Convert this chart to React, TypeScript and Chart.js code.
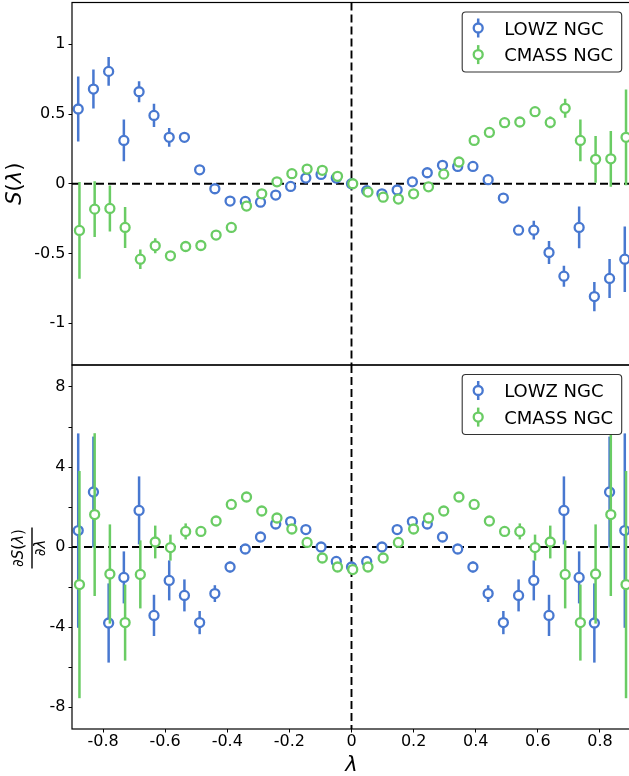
import React, { useEffect, useRef } from 'react';
import { Chart, registerables } from 'chart.js';

Chart.register(...registerables);
Chart.defaults.font.family = '"DejaVu Sans", sans-serif';

// ---------------- data ----------------
const LAMBDA = [-0.88, -0.831, -0.782, -0.733, -0.684, -0.636, -0.587, -0.538, -0.489, -0.44, -0.391, -0.342, -0.293, -0.244, -0.196, -0.147, -0.098, -0.049, 0,
  0.049, 0.098, 0.147, 0.196, 0.244, 0.293, 0.342, 0.391, 0.44, 0.489, 0.538, 0.587, 0.636, 0.684, 0.733, 0.782, 0.831, 0.88];
const CMASS_SHIFT = 0.004;

const LOWZ_S = [0.536, 0.679, 0.806, 0.311, 0.66, 0.49, 0.333, 0.333, 0.10, -0.036, -0.124, -0.127, -0.132, -0.081, -0.019, 0.041, 0.067, 0.041, 0,
  -0.05, -0.072, -0.045, 0.014, 0.079, 0.132, 0.124, 0.124, 0.029, -0.103, -0.333, -0.333, -0.493, -0.663, -0.313, -0.809, -0.679, -0.541];
const LOWZ_S_ERR = [0.233, 0.14, 0.103, 0.15, 0.075, 0.083, 0.067, 0.02, 0.015, 0.012, 0.012, 0.015, 0.01, 0.01, 0.01, 0.01, 0.008, 0.006, 0,
  0.006, 0.008, 0.01, 0.01, 0.01, 0.01, 0.015, 0.012, 0.012, 0.015, 0.02, 0.067, 0.083, 0.075, 0.15, 0.105, 0.14, 0.235];

const CMASS_S = [-0.335, -0.182, -0.177, -0.313, -0.541, -0.445, -0.517, -0.45, -0.443, -0.368, -0.313, -0.160, -0.072, 0.014, 0.072, 0.105, 0.096, 0.053, 0,
  -0.06, -0.096, -0.11, -0.072, -0.022, 0.069, 0.156, 0.311, 0.368, 0.438, 0.443, 0.517, 0.44, 0.541, 0.311, 0.175, 0.179, 0.333];
const CMASS_S_ERR = [0.347, 0.2, 0.165, 0.147, 0.07, 0.054, 0.02, 0.015, 0.015, 0.012, 0.012, 0.01, 0.01, 0.01, 0.01, 0.01, 0.008, 0.006, 0,
  0.006, 0.008, 0.01, 0.01, 0.01, 0.01, 0.01, 0.012, 0.012, 0.015, 0.015, 0.02, 0.042, 0.068, 0.15, 0.167, 0.2, 0.343];

const LOWZ_D = [0.82, 2.75, -3.8, -1.52, 1.83, -3.42, -1.67, -2.42, -3.78, -2.33, -1.0, -0.1, 0.5, 1.15, 1.27, 0.87, 0, -0.72, -1.0,
  -0.72, 0, 0.87, 1.27, 1.15, 0.5, -0.1, -1.0, -2.33, -3.78, -2.42, -1.67, -3.42, 1.83, -1.52, -3.8, 2.75, 0.82];
const LOWZ_D_ERR = [4.86, 2.77, 1.98, 1.3, 1.7, 1.03, 1.0, 0.8, 0.58, 0.42, 0.27, 0.2, 0.15, 0.12, 0.1, 0.1, 0.1, 0.1, 0.1,
  0.1, 0.1, 0.1, 0.1, 0.12, 0.15, 0.2, 0.27, 0.42, 0.58, 0.8, 1.0, 1.03, 1.7, 1.3, 1.98, 2.77, 4.86];

const CMASS_D = [-1.88, 1.62, -1.35, -3.78, -1.37, 0.25, -0.03, 0.78, 0.78, 1.3, 2.13, 2.5, 1.8, 1.45, 0.9, 0.23, -0.55, -1.0, -1.13,
  -1.0, -0.55, 0.23, 0.9, 1.45, 1.8, 2.5, 2.13, 1.3, 0.78, 0.78, -0.03, 0.25, -1.37, -3.78, -1.35, 1.62, -1.88];
const CMASS_D_ERR = [5.68, 4.07, 2.48, 1.9, 1.7, 0.82, 0.65, 0.4, 0.2, 0.15, 0.12, 0.1, 0.1, 0.1, 0.1, 0.1, 0.1, 0.1, 0.1,
  0.1, 0.1, 0.1, 0.1, 0.1, 0.1, 0.1, 0.12, 0.15, 0.2, 0.4, 0.65, 0.82, 1.7, 1.9, 2.48, 4.07, 5.68];

const SERIES_LABELS = ['LOWZ NGC', 'CMASS NGC'];
const X_TICKS = [-0.8, -0.6, -0.4, -0.2, 0, 0.2, 0.4, 0.6, 0.8];
const S_TICKS = [-1, -0.5, 0, 0.5, 1];
const D_TICKS = [-8, -6, -4, -2, 0, 2, 4, 6, 8];
const D_LABELED = [-8, -4, 0, 4, 8];

// ---------------- style ----------------
const BLUE = '#4878D0';
const GREEN = '#6ACC64';
const W = 631;
const H = 776;
const AXIS_W = 72;
const TOP_PANEL = { top: 2.5, bottom: 365 };
const BOT_PANEL = { top: 365, bottom: 729 };
const FONT = '"DejaVu Sans", sans-serif';

type Part = [string, boolean];

function drawParts(ctx: CanvasRenderingContext2D, parts: Part[], size: number, x: number, y: number) {
  const fonts = parts.map(([, it]) => `${it ? 'italic ' : ''}${size}px ${FONT}`);
  let total = 0;
  const ws = parts.map(([t], i) => {
    ctx.font = fonts[i];
    const w = ctx.measureText(t).width;
    total += w;
    return w;
  });
  let cx = x - total / 2;
  ctx.textAlign = 'left';
  ctx.textBaseline = 'alphabetic';
  parts.forEach(([t], i) => {
    ctx.font = fonts[i];
    ctx.fillText(t, cx, y);
    cx += ws[i];
  });
}

const errorBarPlugin = {
  id: 'errbars',
  beforeDatasetDraw(chart: any, args: any) {
    const ds = chart.data.datasets[args.index];
    const errs: number[] | undefined = ds.errors;
    if (!errs) return;
    const { ctx, chartArea: a } = chart;
    const xs = chart.scales.x;
    const ys = chart.scales.y;
    ctx.save();
    ctx.beginPath();
    ctx.rect(a.left, a.top, a.right - a.left, a.bottom - a.top);
    ctx.clip();
    ctx.strokeStyle = ds.borderColor;
    ctx.lineWidth = 2.5;
    ctx.lineCap = 'butt';
    ds.data.forEach((p: { x: number; y: number }, i: number) => {
      const e = errs[i];
      if (!e) return;
      const x = xs.getPixelForValue(p.x);
      const y1 = ys.getPixelForValue(p.y - e);
      const y2 = ys.getPixelForValue(p.y + e);
      ctx.beginPath();
      ctx.moveTo(x, y1);
      ctx.lineTo(x, y2);
      ctx.stroke();
    });
    ctx.restore();
  },
};

function makeDecor(kind: 'S' | 'D') {
  return {
    id: 'decor',
    beforeDatasetsDraw(chart: any) {
      const { ctx, chartArea: a } = chart;
      const xs = chart.scales.x;
      const ys = chart.scales.y;
      ctx.save();
      ctx.setLineDash([8, 4]);
      ctx.lineWidth = 1.9;
      ctx.strokeStyle = '#000';
      const y0 = ys.getPixelForValue(0);
      ctx.beginPath();
      ctx.moveTo(a.left, y0);
      ctx.lineTo(a.right, y0);
      ctx.stroke();
      const x0 = xs.getPixelForValue(0);
      ctx.beginPath();
      ctx.moveTo(x0, a.top);
      ctx.lineTo(x0, a.bottom);
      ctx.stroke();
      ctx.restore();
    },
    afterDraw(chart: any) {
      const { ctx, chartArea: a } = chart;
      ctx.save();
      // frame
      ctx.strokeStyle = '#000';
      ctx.lineWidth = 1.2;
      ctx.strokeRect(a.left, a.top, a.right - a.left, a.bottom - a.top);

      // legend
      const bw = 159.5;
      const bh = 60;
      const bx = a.right - 9.3 - bw;
      const by = a.top + 9.5;
      ctx.beginPath();
      (ctx as any).roundRect(bx, by, bw, bh, 3.5);
      ctx.fillStyle = '#fff';
      ctx.fill();
      ctx.strokeStyle = '#333';
      ctx.lineWidth = 1.1;
      ctx.stroke();
      const colors = [BLUE, GREEN];
      SERIES_LABELS.forEach((label, i) => {
        const cy = by + 16 + i * 26.6;
        const mx = bx + 16;
        ctx.strokeStyle = colors[i];
        ctx.lineWidth = 2.5;
        ctx.beginPath();
        ctx.moveTo(mx, cy - 9.5);
        ctx.lineTo(mx, cy + 9.5);
        ctx.stroke();
        ctx.beginPath();
        ctx.arc(mx, cy, 4.5, 0, Math.PI * 2);
        ctx.fillStyle = '#fff';
        ctx.fill();
        ctx.lineWidth = 2.3;
        ctx.stroke();
        ctx.fillStyle = '#000';
        ctx.font = `18px ${FONT}`;
        ctx.textAlign = 'left';
        ctx.textBaseline = 'alphabetic';
        ctx.fillText(label, bx + 42, cy + 6.5);
      });

      // axis labels
      ctx.fillStyle = '#000';
      const midY = (a.top + a.bottom) / 2;
      if (kind === 'S') {
        ctx.save();
        ctx.translate(21, midY);
        ctx.rotate(-Math.PI / 2);
        drawParts(ctx, [['S', true], ['(', false], ['λ', true], [')', false]], 21, 0, 0);
        ctx.restore();
      } else {
        ctx.save();
        ctx.translate(30, midY + 1);
        ctx.rotate(-Math.PI / 2);
        drawParts(ctx, [['∂', false], ['S', true], ['(', false], ['λ', true], [')', false]], 15, 0, -7);
        ctx.strokeStyle = '#000';
        ctx.lineWidth = 1.4;
        ctx.beginPath();
        ctx.moveTo(-20.5, 2);
        ctx.lineTo(20.5, 2);
        ctx.stroke();
        drawParts(ctx, [['∂', false], ['λ', true]], 15, 0, 14.5);
        ctx.restore();
        // x label
        drawParts(ctx, [['λ', true]], 21, (a.left + a.right) / 2, 771);
      }
      ctx.restore();
    },
  };
}

function pts(ys: number[], shift: number) {
  return LAMBDA.map((x, i) => ({ x: x + shift, y: ys[i] }));
}

function makeDataset(label: string, color: string, ys: number[], errs: number[], shift: number, order: number) {
  return {
    type: 'scatter' as const,
    label,
    data: pts(ys, shift),
    errors: errs,
    showLine: false,
    borderColor: color,
    backgroundColor: '#fff',
    pointBackgroundColor: '#fff',
    pointBorderColor: color,
    pointRadius: 4.5,
    pointHoverRadius: 4.5,
    pointBorderWidth: 2.3,
    order,
  };
}

const tickFont = { size: 16, family: FONT };

function buildConfig(kind: 'S' | 'D') {
  const isS = kind === 'S';
  const panel = isS ? TOP_PANEL : BOT_PANEL;
  const datasets = isS
    ? [makeDataset(SERIES_LABELS[0], BLUE, LOWZ_S, LOWZ_S_ERR, 0, 2), makeDataset(SERIES_LABELS[1], GREEN, CMASS_S, CMASS_S_ERR, CMASS_SHIFT, 1)]
    : [makeDataset(SERIES_LABELS[0], BLUE, LOWZ_D, LOWZ_D_ERR, 0, 2), makeDataset(SERIES_LABELS[1], GREEN, CMASS_D, CMASS_D_ERR, CMASS_SHIFT, 1)];
  const yTicks = isS ? S_TICKS : D_TICKS;
  return {
    type: 'scatter' as const,
    data: { datasets },
    options: {
      responsive: false,
      animation: false as const,
      events: [],
      layout: { autoPadding: false, padding: { top: panel.top, left: 0, right: 0, bottom: 0 } },
      plugins: { legend: { display: false }, tooltip: { enabled: false } },
      scales: {
        x: {
          type: 'linear' as const,
          min: -0.9,
          max: 0.9,
          border: { display: false },
          grid: { drawOnChartArea: false, drawTicks: !isS, tickLength: 3.5, color: '#000', lineWidth: 1 },
          ticks: {
            display: !isS,
            autoSkip: false,
            maxRotation: 0,
            padding: 0,
            color: '#000',
            font: tickFont,
            callback: (v: number) => {
              const r = Math.round(v * 10) / 10;
              return r === 0 ? '0' : r.toFixed(1);
            },
          },
          afterBuildTicks: (s: any) => {
            s.ticks = X_TICKS.map((value) => ({ value }));
          },
          afterFit: (s: any) => {
            s.height = H - panel.bottom;
            s.paddingLeft = 0;
            s.paddingRight = 0;
          },
        },
        y: {
          type: 'linear' as const,
          min: isS ? -1.3 : -9.1,
          max: isS ? 1.3 : 9.1,
          border: { display: false },
          grid: { drawOnChartArea: false, drawTicks: true, tickLength: 3.5, color: '#000', lineWidth: 1 },
          ticks: {
            autoSkip: false,
            padding: 3,
            color: '#000',
            font: tickFont,
            callback: (v: number) => {
              if (isS) {
                const r = Math.round(v * 10) / 10;
                return Number.isInteger(r) ? String(r) : r.toFixed(1);
              }
              const r = Math.round(v);
              return D_LABELED.includes(r) ? String(r) : '';
            },
          },
          afterBuildTicks: (s: any) => {
            s.ticks = yTicks.map((value) => ({ value }));
          },
          afterFit: (s: any) => {
            s.width = AXIS_W;
            s.paddingTop = 0;
            s.paddingBottom = 0;
          },
        },
      },
    },
    plugins: [errorBarPlugin, makeDecor(kind)],
  };
}

export default function App() {
  const topRef = useRef<HTMLCanvasElement | null>(null);
  const botRef = useRef<HTMLCanvasElement | null>(null);

  useEffect(() => {
    const charts: Chart[] = [];
    if (topRef.current) charts.push(new Chart(topRef.current, buildConfig('S') as any));
    if (botRef.current) charts.push(new Chart(botRef.current, buildConfig('D') as any));
    return () => charts.forEach((c) => c.destroy());
  }, []);

  const canvasStyle: React.CSSProperties = { position: 'absolute', left: 0, top: 0, width: W, height: H, display: 'block' };
  return (
    <div style={{ position: 'fixed', left: 0, top: 0, width: W, height: H, background: '#fff' }}>
      <canvas ref={topRef} width={W} height={H} style={canvasStyle} />
      <canvas ref={botRef} width={W} height={H} style={canvasStyle} />
    </div>
  );
}
